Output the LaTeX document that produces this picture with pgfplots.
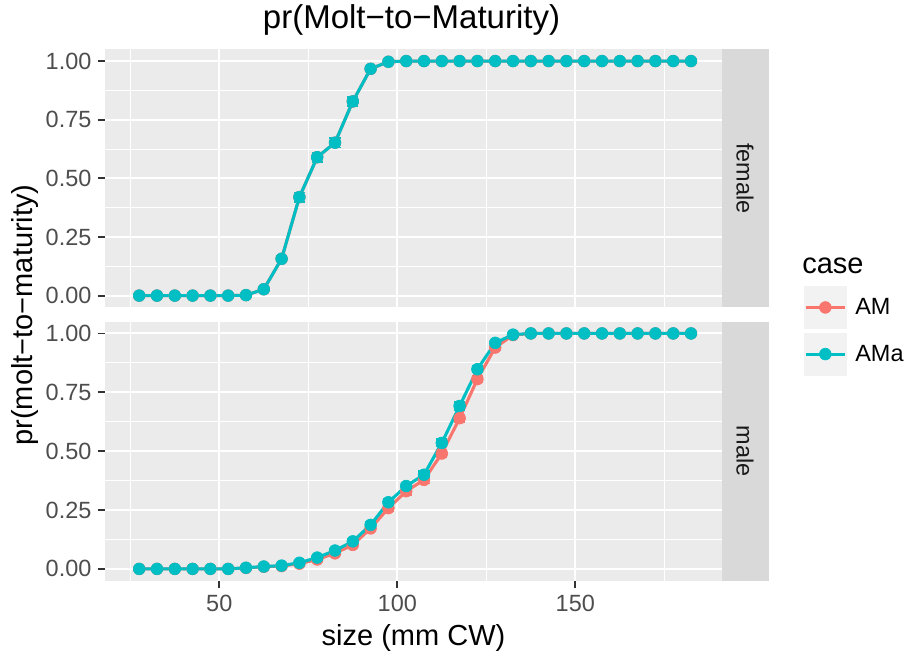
\documentclass[border=0pt]{standalone}
\usepackage{fontspec}
\setmainfont{Liberation Sans}
\usepackage{pgfplots}
\pgfplotsset{compat=1.18}

\definecolor{am}{HTML}{F8766D}
\definecolor{ama}{HTML}{00BFC4}
\definecolor{panelbg}{HTML}{EBEBEB}
\definecolor{stripbg}{HTML}{D9D9D9}
\definecolor{keybg}{HTML}{F2F2F2}
\definecolor{ticktext}{HTML}{4D4D4D}
\definecolor{tickline}{HTML}{333333}

\pgfplotsset{
  facet/.style={
    scale only axis,
    width=462.75pt,
    xmin=17.9, xmax=191.2,
    ymin=-0.05, ymax=1.05,
    axis line style={draw=none},
    axis background/.style={fill=panelbg},
    xtick={50,100,150},
    minor xtick={25,75,125,175},
    ytick={0,0.25,0.5,0.75,1},
    minor ytick={0.125,0.375,0.625,0.875},
    yticklabels={0.00,0.25,0.50,0.75,1.00},
    grid=both,
    major grid style={white, line width=1.5pt},
    minor grid style={white, line width=0.75pt},
    tick align=outside,
    xtick pos=bottom, ytick pos=left,
    major tick length=5.25pt,
    minor tick length=0pt,
    tick style={tickline, line width=1.4pt},
    /pgf/number format/assume math mode=true,
    tick label style={font=\fontsize{17.6pt}{20pt}\selectfont, text=ticktext, inner sep=0pt},
    yticklabel style={anchor=east, xshift=-4.75pt},
    xticklabel style={anchor=north, yshift=-5.4pt},
  },
  amline/.style={color=am, line width=2.3pt, mark=*, mark size=4.4pt,
    mark options={fill=am, draw=am, solid, line width=0.5pt},
    error bars/.cd, y dir=both, y explicit,
    error bar style={line width=1.2pt, am},
    error mark options={rotate=90, mark size=4.2pt, line width=1.2pt, am}},
  amaline/.style={color=ama, line width=2.3pt, mark=*, mark size=4.4pt,
    mark options={fill=ama, draw=ama, solid, line width=0.5pt},
    error bars/.cd, y dir=both, y explicit,
    error bar style={line width=1.2pt, ama},
    error mark options={rotate=90, mark size=4.2pt, line width=1.2pt, ama}},
}

\begin{document}
\begin{tikzpicture}
\path[use as bounding box] (0pt,0pt) rectangle (681pt,-492pt);

% female panel
\begin{axis}[facet, at={(78.75pt,-230.5pt)}, anchor=south west, height=193.5pt,
  xticklabels={}, xtick style={draw=none}]
\addplot[amline] coordinates {
(27.5,0) (32.5,0) (37.5,0) (42.5,0) (47.5,0) (52.5,0) (57.5,0.002)
(62.5,0.027) +- (0,0.005) (67.5,0.157) +- (0,0.012) (72.5,0.420) +- (0,0.02)
(77.5,0.590) +- (0,0.02) (82.5,0.652) +- (0,0.02) (87.5,0.828) +- (0,0.02)
(92.5,0.967) +- (0,0.008) (97.5,0.997) +- (0,0.002)
(102.5,1) (107.5,1) (112.5,1) (117.5,1) (122.5,1) (127.5,1) (132.5,1) (137.5,1)
(142.5,1) (147.5,1) (152.5,1) (157.5,1) (162.5,1) (167.5,1) (172.5,1) (177.5,1) (182.5,1)
};
\addplot[amaline] coordinates {
(27.5,0) (32.5,0) (37.5,0) (42.5,0) (47.5,0) (52.5,0) (57.5,0.002)
(62.5,0.027) +- (0,0.005) (67.5,0.157) +- (0,0.012) (72.5,0.420) +- (0,0.02)
(77.5,0.590) +- (0,0.02) (82.5,0.652) +- (0,0.02) (87.5,0.828) +- (0,0.02)
(92.5,0.967) +- (0,0.008) (97.5,0.997) +- (0,0.002)
(102.5,1) (107.5,1) (112.5,1) (117.5,1) (122.5,1) (127.5,1) (132.5,1) (137.5,1)
(142.5,1) (147.5,1) (152.5,1) (157.5,1) (162.5,1) (167.5,1) (172.5,1) (177.5,1) (182.5,1)
};
\end{axis}

% male panel
\begin{axis}[facet, at={(78.75pt,-435.5pt)}, anchor=south west, height=194.25pt,
  xticklabels={50,100,150},
  legend style={at={(axis description cs:1.1329,1.1378)}, anchor=north west,
    draw=none, fill=none, inner sep=0pt, outer sep=0pt, row sep=2.8pt, column sep=6.5pt,
    font=\fontsize{17.6pt}{20pt}\selectfont,
    nodes={inner sep=0pt}},
  legend cell align=left,
  legend image code/.code={
    \fill[keybg, draw=none] (0pt,-16.1pt) rectangle (32pt,16.1pt);
    \draw[mark repeat=2, mark phase=2] plot coordinates {(1.5pt,0pt) (16pt,0pt) (30.5pt,0pt)};
  }]
\addplot[amline] coordinates {
(27.5,0) (32.5,0) (37.5,0) (42.5,0) (47.5,0) (52.5,0) (57.5,0.004)
(62.5,0.009) (67.5,0.012) (72.5,0.022) +- (0,0.004) (77.5,0.040) +- (0,0.006)
(82.5,0.066) +- (0,0.008) (87.5,0.102) +- (0,0.01) (92.5,0.172) +- (0,0.012)
(97.5,0.258) +- (0,0.014) (102.5,0.330) +- (0,0.015) (107.5,0.378) +- (0,0.015)
(112.5,0.490) +- (0,0.016) (117.5,0.640) +- (0,0.016) (122.5,0.806) +- (0,0.014)
(127.5,0.940) +- (0,0.01) (132.5,0.993) +- (0,0.003)
(137.5,1) (142.5,1) (147.5,1) (152.5,1) (157.5,1) (162.5,1) (167.5,1) (172.5,1) (177.5,1) (182.5,1)
};
\addplot[amaline] coordinates {
(27.5,0) (32.5,0) (37.5,0) (42.5,0) (47.5,0) (52.5,0) (57.5,0.005)
(62.5,0.010) (67.5,0.014) (72.5,0.026) +- (0,0.004) (77.5,0.048) +- (0,0.006)
(82.5,0.078) +- (0,0.008) (87.5,0.117) +- (0,0.01) (92.5,0.187) +- (0,0.012)
(97.5,0.283) +- (0,0.014) (102.5,0.352) +- (0,0.015) (107.5,0.400) +- (0,0.015)
(112.5,0.535) +- (0,0.016) (117.5,0.692) +- (0,0.016) (122.5,0.848) +- (0,0.014)
(127.5,0.960) +- (0,0.01) (132.5,0.995) +- (0,0.003)
(137.5,1) (142.5,1) (147.5,1) (152.5,1) (157.5,1) (162.5,1) (167.5,1) (172.5,1) (177.5,1) (182.5,1)
};
\legend{AM, AMa}
\end{axis}

\begin{scope}[x=0.75pt, y=-0.75pt]
% facet strips
\fill[stripbg] (722,49.3) rectangle (768.5,307.3);
\fill[stripbg] (722,321.7) rectangle (768.5,580.7);
\node[rotate=-90, text=black!90, font=\fontsize{17.6pt}{20pt}\selectfont] at (745,178.3) {female};
\node[rotate=-90, text=black!90, font=\fontsize{17.6pt}{20pt}\selectfont] at (745,451.2) {male};
% titles
\node[anchor=base, font=\fontsize{24.75pt}{28pt}\selectfont, inner sep=0pt] at (411.5,28.3) {pr(Molt−to−Maturity)};
\node[anchor=base, font=\fontsize{21.75pt}{25pt}\selectfont, inner sep=0pt] at (413.5,645) {size (mm CW)};
\node[anchor=base, rotate=90, font=\fontsize{21.75pt}{25pt}\selectfont, inner sep=0pt] at (32,315) {pr(molt−to−maturity)};
\node[anchor=base west, font=\fontsize{21.75pt}{25pt}\selectfont, inner sep=0pt] at (802,273.3) {case};
\end{scope}
\end{tikzpicture}
\end{document}
